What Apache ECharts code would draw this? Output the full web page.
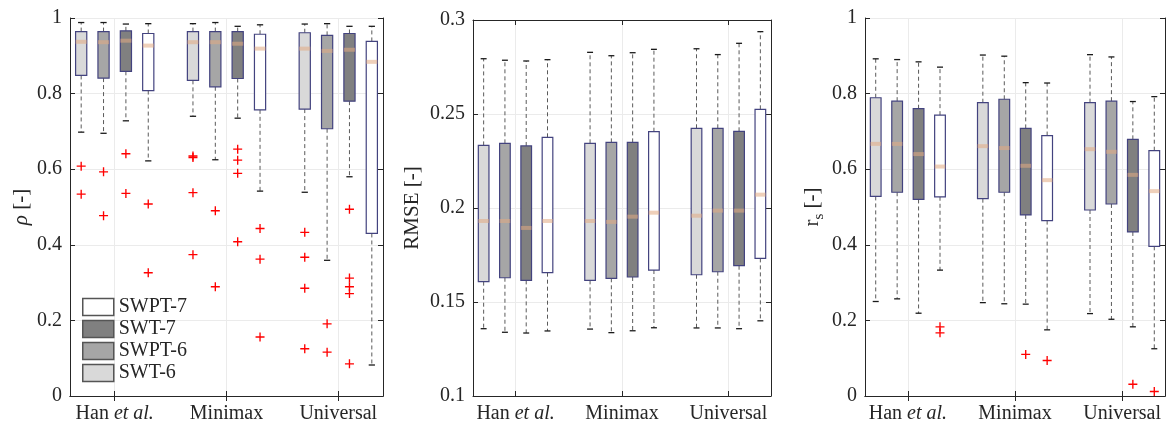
<!DOCTYPE html>
<html>
<head>
<meta charset="utf-8">
<script src="https://cdn.jsdelivr.net/npm/echarts@6/dist/echarts.min.js"></script>
<style>
  html, body { margin: 0; padding: 0; background: #fff; }
  #app { width: 1169px; height: 426px; }
</style>
</head>
<body>
<div id="app"></div>
<script>
const groups = ['Han et al.', 'Minimax', 'Universal'];
const methods = ['SWT-6', 'SWPT-6', 'SWT-7', 'SWPT-7'];
const legendOrder = ['SWPT-7', 'SWT-7', 'SWPT-6', 'SWT-6'];
const positions = [1, 2, 3, 4, 6, 7, 8, 9, 11, 12, 13, 14];
const groupTicks = [2.5, 7.5, 12.5];

// [lower whisker, q1, median, q3, upper whisker], rows = group x method
const rhoStats = [
  [0.698, 0.848, 0.937, 0.964, 0.988],
  [0.695, 0.841, 0.936, 0.964, 0.988],
  [0.728, 0.859, 0.940, 0.966, 0.984],
  [0.622, 0.808, 0.927, 0.959, 0.985],
  [0.740, 0.835, 0.936, 0.964, 0.985],
  [0.625, 0.818, 0.936, 0.964, 0.988],
  [0.735, 0.840, 0.932, 0.964, 0.978],
  [0.542, 0.757, 0.919, 0.957, 0.982],
  [0.539, 0.759, 0.919, 0.961, 0.984],
  [0.359, 0.707, 0.913, 0.954, 0.985],
  [0.580, 0.780, 0.916, 0.959, 0.978],
  [0.082, 0.430, 0.884, 0.938, 0.978]
];
const rhoOutliers = [
  [0.608, 0.534],
  [0.593, 0.477],
  [0.641, 0.536],
  [0.508, 0.326],
  [0.635, 0.631, 0.538, 0.374],
  [0.490, 0.289],
  [0.653, 0.624, 0.589, 0.408],
  [0.443, 0.362, 0.156],
  [0.433, 0.367, 0.285, 0.125],
  [0.191, 0.116],
  [0.494, 0.312, 0.289, 0.271, 0.085],
  []
];

const rmseStats = [
  [0.1358, 0.1608, 0.1931, 0.2333, 0.2794],
  [0.1339, 0.1629, 0.1931, 0.2344, 0.2786],
  [0.1335, 0.1615, 0.1894, 0.2330, 0.2782],
  [0.1346, 0.1656, 0.1931, 0.2376, 0.2789],
  [0.1356, 0.1615, 0.1931, 0.2344, 0.2828],
  [0.1337, 0.1626, 0.1926, 0.2349, 0.2810],
  [0.1347, 0.1633, 0.1954, 0.2349, 0.2826],
  [0.1363, 0.1670, 0.1975, 0.2406, 0.2844],
  [0.1362, 0.1645, 0.1959, 0.2424, 0.2847],
  [0.1362, 0.1661, 0.1986, 0.2424, 0.2816],
  [0.1358, 0.1693, 0.1986, 0.2408, 0.2876],
  [0.1400, 0.1732, 0.2071, 0.2525, 0.2938]
];
const rmseOutliers = [[], [], [], [], [], [], [], [], [], [], [], []];

const rsStats = [
  [0.250, 0.528, 0.667, 0.789, 0.892],
  [0.257, 0.539, 0.667, 0.780, 0.890],
  [0.219, 0.520, 0.640, 0.760, 0.884],
  [0.333, 0.527, 0.607, 0.743, 0.870],
  [0.247, 0.522, 0.661, 0.776, 0.902],
  [0.244, 0.539, 0.656, 0.785, 0.899],
  [0.243, 0.479, 0.609, 0.708, 0.829],
  [0.175, 0.464, 0.571, 0.689, 0.828],
  [0.218, 0.492, 0.653, 0.776, 0.903],
  [0.203, 0.508, 0.646, 0.780, 0.897],
  [0.183, 0.434, 0.585, 0.679, 0.779],
  [0.125, 0.396, 0.542, 0.649, 0.792]
];
const rsOutliers = [[], [], [], [0.183, 0.167], [], [], [0.110], [0.094], [], [], [0.031], [0.012]];

const FONT = '"Liberation Serif", "Times New Roman", serif';
const TXT = '#262626';
const fills = { 'SWT-6': '#d9d9d9', 'SWPT-6': '#a6a6a6', 'SWT-7': '#808080', 'SWPT-7': '#ffffff' };
const EDGE = '#43437f';
const PLUS = 'path://M4.25,0H5.75V4.25H10V5.75H5.75V10H4.25V5.75H0V4.25H4.25Z';

const panels = [
  { stats: rhoStats, out: rhoOutliers, min: 0, max: 1, interval: 0.2, grid: { left: 70, top: 18, width: 313, height: 378 },
    name: '{i|ρ} [-]', nameGap: 38 },
  { stats: rmseStats, out: rmseOutliers, min: 0.1, max: 0.3, interval: 0.05, grid: { left: 473, top: 20, width: 298, height: 376 },
    name: 'RMSE [-]', nameGap: 50 },
  { stats: rsStats, out: rsOutliers, min: 0, max: 1, interval: 0.2, grid: { left: 865, top: 18, width: 300, height: 378 },
    name: '{r|r}{s|s} [-]', nameGap: 38 }
];

function renderBox(params, api) {
  const x = api.value(0);
  const lo = api.coord([x, api.value(1)]);
  const q1 = api.coord([x, api.value(2)]);
  const md = api.coord([x, api.value(3)]);
  const q3 = api.coord([x, api.value(4)]);
  const hi = api.coord([x, api.value(5)]);
  const cx = lo[0];
  const w = api.size([0.5, 0])[0];
  const cw = api.size([0.28, 0])[0];
  const fill = fills[params.seriesName];
  const dash = { stroke: '#5a5a5a', lineWidth: 1, lineDash: [4, 3] };
  const cap = { stroke: '#1a1a1a', lineWidth: 1.3 };
  return {
    type: 'group',
    children: [
      { type: 'line', shape: { x1: cx, y1: q3[1], x2: cx, y2: hi[1] }, style: dash },
      { type: 'line', shape: { x1: cx, y1: q1[1], x2: cx, y2: lo[1] }, style: dash },
      { type: 'line', shape: { x1: cx - cw / 2, y1: hi[1], x2: cx + cw / 2, y2: hi[1] }, style: cap },
      { type: 'line', shape: { x1: cx - cw / 2, y1: lo[1], x2: cx + cw / 2, y2: lo[1] }, style: cap },
      { type: 'rect', shape: { x: cx - w / 2, y: q3[1], width: w, height: q1[1] - q3[1] },
        style: { fill: fill, stroke: EDGE, lineWidth: 1.2 } },
      { type: 'rect', shape: { x: cx - w / 2, y: md[1] - 2, width: w, height: 4 },
        style: { fill: 'rgba(225,170,130,0.55)' } }
    ]
  };
}

const grid = [], xAxis = [], yAxis = [], series = [];

panels.forEach((p, g) => {
  grid.push(p.grid);
  const tick = { inside: true, length: 5, lineStyle: { color: TXT } };
  const line = { show: true, lineStyle: { color: TXT, width: 1 } };
  xAxis.push({
    gridIndex: g, type: 'value', min: 0.5, max: 14.5,
    axisLine: line,
    axisTick: Object.assign({ customValues: groupTicks }, tick),
    axisLabel: {
      customValues: groupTicks, margin: 8, color: TXT, fontFamily: FONT, fontSize: 20,
      formatter: v => {
        const name = groups[Math.round((v - 2.5) / 5)];
        return name === 'Han et al.' ? '{n|Han }{i|et al.}' : '{n|' + name + '}';
      },
      rich: {
        n: { fontFamily: FONT, fontSize: 20, color: TXT },
        i: { fontFamily: FONT, fontSize: 20, color: TXT, fontStyle: 'italic' }
      }
    },
    splitLine: { show: true, lineStyle: { color: '#ebebeb' } }
  });
  xAxis.push({
    gridIndex: g, type: 'value', min: 0.5, max: 14.5, position: 'top',
    axisLine: line,
    axisTick: Object.assign({ customValues: groupTicks }, tick),
    axisLabel: { show: false }, splitLine: { show: false }
  });
  yAxis.push({
    gridIndex: g, type: 'value', min: p.min, max: p.max, interval: p.interval,
    axisLine: line, axisTick: tick,
    axisLabel: { margin: 8, color: TXT, fontFamily: FONT, fontSize: 20 },
    splitLine: { show: true, lineStyle: { color: '#ebebeb' } },
    name: p.name, nameLocation: 'middle', nameGap: p.nameGap,
    nameTextStyle: {
      fontFamily: FONT, fontSize: 21, color: TXT,
      rich: {
        i: { fontFamily: FONT, fontSize: 21, color: TXT, fontStyle: 'italic' },
        r: { fontFamily: FONT, fontSize: 21, color: TXT },
        s: { fontFamily: FONT, fontSize: 15, color: TXT, padding: [14, 0, 0, 0] }
      }
    }
  });
  yAxis.push({
    gridIndex: g, type: 'value', min: p.min, max: p.max, interval: p.interval, position: 'right',
    axisLine: line, axisTick: tick, axisLabel: { show: false }, splitLine: { show: false }
  });

  methods.forEach((m, mi) => {
    const data = [];
    positions.forEach((pos, k) => {
      if (k % 4 === mi) data.push([pos].concat(p.stats[k]));
    });
    series.push({
      type: 'custom', name: m, xAxisIndex: g * 2, yAxisIndex: g * 2,
      itemStyle: { color: fills[m], borderColor: '#555' },
      renderItem: renderBox, data: data, z: 2
    });
  });

  const pts = [];
  positions.forEach((pos, k) => p.out[k].forEach(v => pts.push([pos, v])));
  series.push({
    type: 'scatter', xAxisIndex: g * 2, yAxisIndex: g * 2, data: pts,
    symbol: PLUS, symbolSize: 9, itemStyle: { color: '#ff0000', opacity: 1 }, z: 3, silent: true
  });
});

const chart = echarts.init(document.getElementById('app'));
chart.setOption({
  animation: false,
  textStyle: { fontFamily: FONT, color: TXT },
  grid: grid,
  xAxis: xAxis,
  yAxis: yAxis,
  legend: {
    left: 77, top: 292, orient: 'vertical', icon: 'rect',
    itemWidth: 31, itemHeight: 17, itemGap: 2,
    textStyle: { fontFamily: FONT, fontSize: 20, color: TXT },
    data: legendOrder.map(n => ({ name: n, itemStyle: { color: fills[n], borderColor: '#555', borderWidth: 1.5 } }))
  },
  series: series
});
</script>
</body>
</html>
